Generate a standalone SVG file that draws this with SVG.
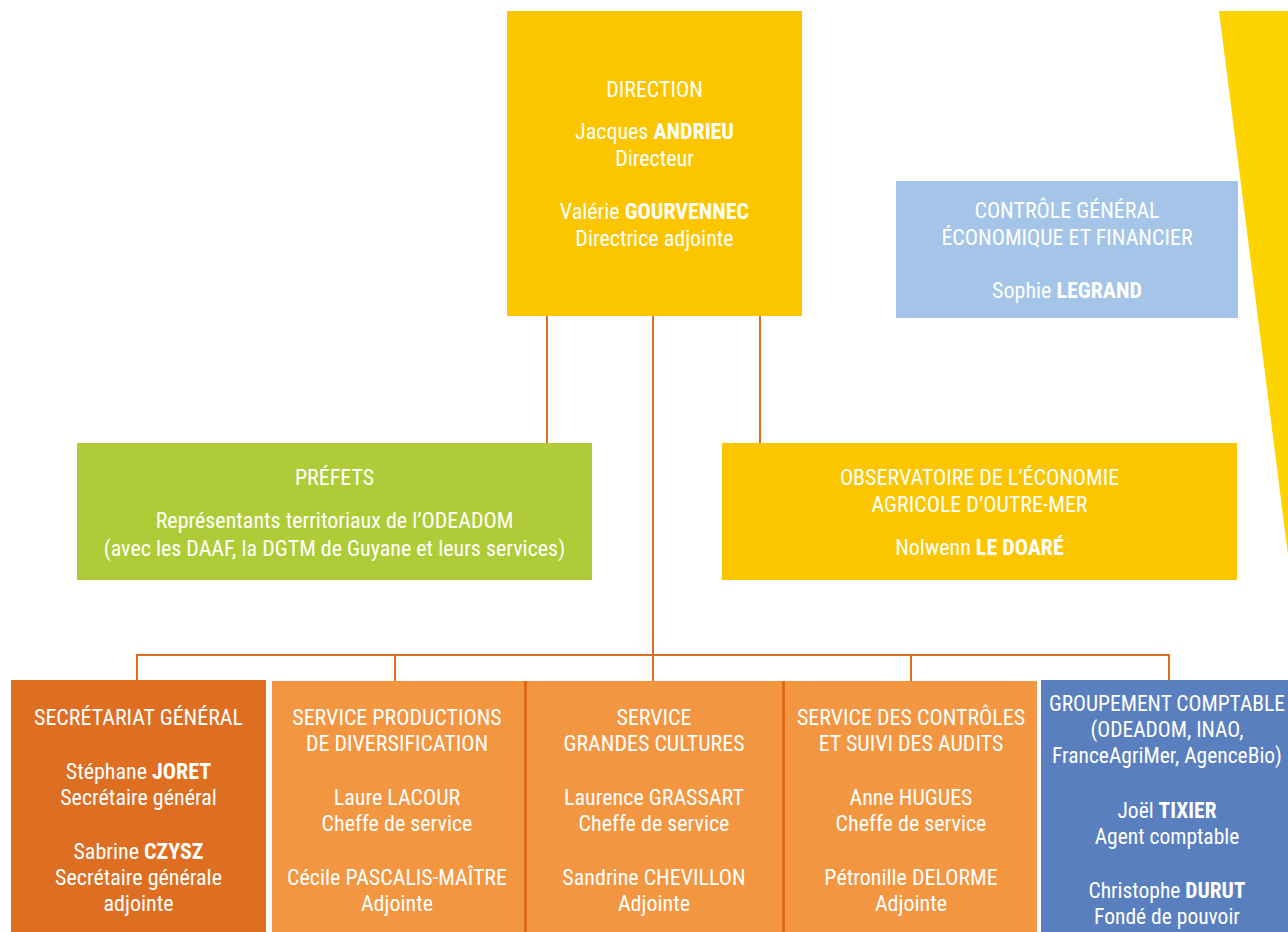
<svg xmlns="http://www.w3.org/2000/svg" width="1288" height="932" viewBox="0 0 1288 932">
<style>
text{font-family:"Liberation Sans Narrow","Arial Narrow","Roboto Condensed","Liberation Sans",sans-serif;font-size:22px;fill:#ffffff;text-anchor:middle}
.b{font-weight:bold}
.s{font-size:21.5px}
.conn{stroke:#DD6E22;stroke-width:2;fill:none}
.sep{stroke:#DD6A14;stroke-width:3}
</style>
<rect width="1288" height="932" fill="#ffffff"/>
<polygon points="1219,11 1288,11 1288,555" fill="#FDD300"/>
<g id="connectors">
<line class="conn" x1="547" y1="316" x2="547" y2="443"/>
<line class="conn" x1="760" y1="316" x2="760" y2="443"/>
<line class="conn" x1="653" y1="316" x2="653" y2="655"/>
<polyline class="conn" points="137,681 137,655 1169,655 1169,681"/>
<line class="conn" x1="395" y1="655" x2="395" y2="681"/>
<line class="conn" x1="653" y1="655" x2="653" y2="681"/>
<line class="conn" x1="911" y1="655" x2="911" y2="681"/>
</g>
<g id="direction">
<rect x="507" y="11" width="295" height="305" fill="#FBC600"/>
<text x="654.5" y="97">DIRECTION</text>
<text x="654.5" y="139">Jacques <tspan class="b">ANDRIEU</tspan></text>
<text x="654.5" y="166">Directeur</text>
<text x="654.5" y="219">Valérie <tspan class="b">GOURVENNEC</tspan></text>
<text x="654.5" y="246">Directrice adjointe</text>
</g>
<g id="controle">
<rect x="896" y="181" width="342" height="137" fill="#A4C5E8"/>
<text x="1067" y="218">CONTRÔLE GÉNÉRAL</text>
<text x="1067" y="245">ÉCONOMIQUE ET FINANCIER</text>
<text x="1067" y="298">Sophie <tspan class="b">LEGRAND</tspan></text>
</g>
<g id="prefets">
<rect x="77" y="443" width="515" height="137" fill="#AFCB38"/>
<text x="334.5" y="485">PRÉFETS</text>
<text x="334.5" y="528">Représentants territoriaux de l’ODEADOM</text>
<text x="334.5" y="556">(avec les DAAF, la DGTM de Guyane et leurs services)</text>
</g>
<g id="observatoire">
<rect x="722" y="443" width="515" height="137" fill="#FBC600"/>
<text x="979.5" y="485">OBSERVATOIRE DE L’ÉCONOMIE</text>
<text x="979.5" y="512">AGRICOLE D’OUTRE-MER</text>
<text x="979.5" y="555">Nolwenn <tspan class="b">LE DOARÉ</tspan></text>
</g>
<g id="secretariat">
<rect x="11" y="680" width="255" height="252" fill="#DD6E22"/>
<text x="138.5" y="725">SECRÉTARIAT GÉNÉRAL</text>
<text x="138.5" y="779">Stéphane <tspan class="b">JORET</tspan></text>
<text x="138.5" y="805">Secrétaire général</text>
<text x="138.5" y="859">Sabrine <tspan class="b">CZYSZ</tspan></text>
<text x="138.5" y="885">Secrétaire générale</text>
<text x="138.5" y="911">adjointe</text>
</g>
<g id="service-diversification">
<rect x="272" y="681" width="253" height="251" fill="#F39641"/>
<text x="397" y="725">SERVICE PRODUCTIONS</text>
<text x="397" y="751">DE DIVERSIFICATION</text>
<text x="397" y="805">Laure LACOUR</text>
<text x="397" y="831">Cheffe de service</text>
<text x="397" y="885">Cécile PASCALIS-MAÎTRE</text>
<text x="397" y="911">Adjointe</text>
</g>
<g id="service-grandes-cultures">
<rect x="525" y="681" width="258" height="251" fill="#F39641"/>
<text x="654" y="725">SERVICE</text>
<text x="654" y="751">GRANDES CULTURES</text>
<text x="654" y="805">Laurence GRASSART</text>
<text x="654" y="831">Cheffe de service</text>
<text x="654" y="885">Sandrine CHEVILLON</text>
<text x="654" y="911">Adjointe</text>
</g>
<g id="service-controles">
<rect x="783" y="681" width="254" height="251" fill="#F39641"/>
<text x="911" y="725">SERVICE DES CONTRÔLES</text>
<text x="911" y="751">ET SUIVI DES AUDITS</text>
<text x="911" y="805">Anne HUGUES</text>
<text x="911" y="831">Cheffe de service</text>
<text x="911" y="885">Pétronille DELORME</text>
<text x="911" y="911">Adjointe</text>
</g>
<line class="sep" x1="525.5" y1="681" x2="525.5" y2="932"/>
<line class="sep" x1="783.5" y1="681" x2="783.5" y2="932"/>
<g id="groupement-comptable">
<rect x="1041" y="680" width="247" height="252" fill="#5A7FBE"/>
<text class="s" x="1167" y="711">GROUPEMENT COMPTABLE</text>
<text class="s" x="1167" y="737">(ODEADOM, INAO,</text>
<text class="s" x="1167" y="763">FranceAgriMer, AgenceBio)</text>
<text class="s" x="1167" y="818">Joël <tspan class="b">TIXIER</tspan></text>
<text class="s" x="1167" y="844">Agent comptable</text>
<text class="s" x="1167" y="898">Christophe <tspan class="b">DURUT</tspan></text>
<text class="s" x="1167" y="924">Fondé de pouvoir</text>
</g>
</svg>
